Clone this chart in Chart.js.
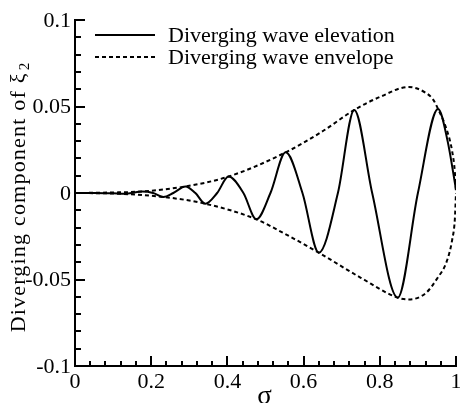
<!DOCTYPE html>
<html>
<head>
<meta charset="utf-8">
<script src="https://cdn.jsdelivr.net/npm/chart.js@4.4.0/dist/chart.umd.min.js"></script>
<style>
  html, body { margin: 0; padding: 0; background: #fff; }
  #wrap { width: 460px; height: 403px; }
</style>
</head>
<body>
<div id="wrap"><canvas id="waveChart"></canvas></div>
<script>
// Diverging wave elevation (solid)
const waveSigma = [0, 0.05, 0.1, 0.13, 0.176, 0.205, 0.232, 0.258, 0.29, 0.316, 0.342, 0.373, 0.403, 0.442, 0.476, 0.513, 0.553, 0.597, 0.64, 0.69, 0.733, 0.78, 0.847, 0.90, 0.953, 0.978, 1.0];
const waveElevation = [0, 0, -0.0002, -0.0004, 0.0008, 0, -0.0023, 0, 0.0038, 0, -0.0062, 0, 0.0095, 0, -0.0152, 0, 0.0235, 0, -0.0345, 0, 0.048, 0, -0.0605, 0, 0.0485, 0.03, 0.002];

// Envelope, upper and lower branches (dashed)
const upperSigma = [0, 0.1, 0.176, 0.29, 0.403, 0.553, 0.645, 0.733, 0.8, 0.876, 0.92, 0.94, 0.953, 0.975, 0.99, 0.997, 1.0];
const upperEnvelope = [0, 0.0003, 0.0009, 0.0038, 0.0095, 0.0235, 0.035, 0.048, 0.0555, 0.0613, 0.058, 0.054, 0.0485, 0.037, 0.024, 0.012, 0];
const lowerSigma = [0, 0.1, 0.232, 0.342, 0.476, 0.55, 0.64, 0.75, 0.847, 0.876, 0.92, 0.953, 0.975, 0.99, 0.997, 1.0];
const lowerEnvelope = [0, -0.0003, -0.0023, -0.0062, -0.0152, -0.0235, -0.0345, -0.049, -0.0605, -0.0615, -0.058, -0.0486, -0.04, -0.027, -0.015, 0];

const xTickLabels = ['0', '0.2', '0.4', '0.6', '0.8', '1'];
const yTickLabels = ['-0.1', '-0.05', '0', '0.05', '0.1'];
const legendLabels = ['Diverging wave elevation', 'Diverging wave envelope'];

const toPoints = (xs, ys) => xs.map((v, i) => ({ x: v, y: ys[i] }));

const SERIF = '"Liberation Serif", "Times New Roman", serif';

// ticks pointing inward, labels, titles and legend
const axisDecor = {
    id: 'axisDecor',
    afterDraw(chart) {
        const { ctx, chartArea: a, scales: { x, y } } = chart;
        ctx.save();
        ctx.strokeStyle = '#000';
        ctx.fillStyle = '#000';
        ctx.lineWidth = 2;
        ctx.setLineDash([]);
        ctx.beginPath();
        for (let i = 0; i <= 25; i++) {
            const px = Math.round(x.getPixelForValue(i * 0.04));
            const len = i % 5 === 0 ? 10 : 5;
            ctx.moveTo(px, a.bottom);
            ctx.lineTo(px, a.bottom - len);
        }
        for (let i = 0; i <= 20; i++) {
            const py = Math.round(y.getPixelForValue(-0.1 + i * 0.01));
            const len = i % 5 === 0 ? 10 : 6;
            ctx.moveTo(a.left, py);
            ctx.lineTo(a.left + len, py);
        }
        ctx.stroke();

        // tick labels
        ctx.font = '22px ' + SERIF;
        ctx.textAlign = 'right';
        ctx.textBaseline = 'middle';
        yTickLabels.forEach(t => {
            ctx.fillText(t, a.left - 4, y.getPixelForValue(parseFloat(t)) + 1);
        });
        ctx.textAlign = 'center';
        ctx.textBaseline = 'top';
        xTickLabels.forEach(t => {
            ctx.fillText(t, x.getPixelForValue(parseFloat(t)), a.bottom + 5);
        });

        // x title
        ctx.font = '27px ' + SERIF;
        ctx.textBaseline = 'alphabetic';
        ctx.fillText('σ', (a.left + a.right) / 2 - 1, 404);

        // y title with subscript
        ctx.save();
        ctx.translate(25, 197);
        ctx.rotate(-Math.PI / 2);
        ctx.textAlign = 'left';
        ctx.letterSpacing = '1.2px';
        const main = 'Diverging component of ξ';
        ctx.font = '22px ' + SERIF;
        const w1 = ctx.measureText(main).width;
        ctx.font = '15px ' + SERIF;
        const w2 = ctx.measureText('2').width;
        const start = -(w1 + w2 + 2) / 2;
        ctx.font = '22px ' + SERIF;
        ctx.fillText(main, start, 0);
        ctx.font = '15px ' + SERIF;
        ctx.fillText('2', start + w1 + 2, 4);
        ctx.letterSpacing = '0px';
        ctx.restore();

        // legend
        const rows = [35, 57];
        ctx.font = '22px ' + SERIF;
        ctx.textAlign = 'left';
        ctx.textBaseline = 'middle';
        rows.forEach((ry, i) => {
            const ds = chart.data.datasets[i];
            ctx.lineWidth = 2;
            ctx.setLineDash(ds.borderDash || []);
            ctx.beginPath();
            ctx.moveTo(95, ry);
            ctx.lineTo(155, ry);
            ctx.stroke();
            ctx.setLineDash([]);
            ctx.fillText(legendLabels[i], 168, ry + 1);
        });
        ctx.restore();
    }
};

const ctx = document.getElementById('waveChart').getContext('2d');
new Chart(ctx, {
    type: 'line',
    data: {
        datasets: [{
            label: legendLabels[0],
            data: toPoints(waveSigma, waveElevation),
            borderColor: '#000',
            borderWidth: 2,
            pointRadius: 0,
            cubicInterpolationMode: 'monotone',
            fill: false
        }, {
            label: legendLabels[1],
            data: toPoints(upperSigma, upperEnvelope),
            borderColor: '#000',
            borderWidth: 2,
            borderDash: [4, 3],
            pointRadius: 0,
            cubicInterpolationMode: 'monotone',
            fill: false
        }, {
            label: legendLabels[1] + ' (lower)',
            data: toPoints(lowerSigma, lowerEnvelope),
            borderColor: '#000',
            borderWidth: 2,
            borderDash: [4, 3],
            pointRadius: 0,
            cubicInterpolationMode: 'monotone',
            fill: false
        }]
    },
    options: {
        responsive: true,
        maintainAspectRatio: false,
        animation: false,
        devicePixelRatio: 1,
        layout: { padding: { top: 20, right: 4, left: 0, bottom: 0 } },
        plugins: {
            legend: { display: false },
            tooltip: { enabled: false }
        },
        scales: {
            x: {
                type: 'linear',
                min: 0,
                max: 1,
                grid: { display: false },
                ticks: { display: false },
                border: { display: true, color: '#000', width: 2 },
                afterFit(s) { s.height = 37; }
            },
            y: {
                type: 'linear',
                min: -0.1,
                max: 0.1,
                grid: { display: false },
                ticks: { display: false },
                border: { display: true, color: '#000', width: 2 },
                afterFit(s) { s.width = 75; }
            }
        }
    },
    plugins: [axisDecor]
});
</script>
</body>
</html>
